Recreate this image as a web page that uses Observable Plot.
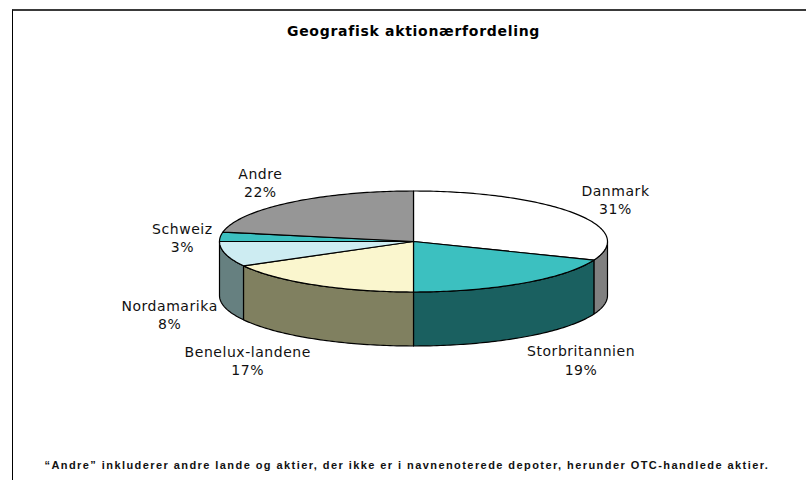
<!DOCTYPE html>
<html lang="da">
<head>
<meta charset="utf-8">
<script src="https://cdn.jsdelivr.net/npm/d3@7"></script>
<script src="https://cdn.jsdelivr.net/npm/@observablehq/plot@0.6"></script>
<style>
html,body{margin:0;padding:0;background:#fff;overflow:hidden}
#chart{position:relative;width:806px;height:480px}
#chart svg{position:absolute;left:0;top:0;background:#fff}
#frame{position:absolute;left:12px;top:9px;right:0;bottom:0;border-top:2px solid #3a3a3a;border-left:1px solid #000;pointer-events:none}
</style>
</head>
<body>
<div id="chart"><div id="frame"></div></div>
<script>
const categories = ["Danmark","Storbritannien","Benelux-landene","Nordamarika","Schweiz","Andre"];
const shares = [31,19,17,8,3,22];
const topColors = ["#ffffff","#3cc0c0","#faf6ce","#cdecf2","#3cc0c0","#969696"];
const sideColors = ["#808080","#1a6060","#808060","#668080","#1a6060","#4b4b4b"];
const labelNudgeX = [41.5,58.5,-67,-56,-38,-29.5];
const labelNudgeY = [-14,76.5,75,60,0.3,-20.5];
const titleText = "Geografisk aktionærfordeling";
const footnoteText = "“Andre” inkluderer andre lande og aktier, der ikke er i navnenoterede depoter, herunder OTC-handlede aktier.";

const depth = 54 / 50.5;          // pie thickness, in units of the vertical radius
const total = d3.sum(shares);
const turn = d3.cumsum(shares).map(c => c / total * 2 * Math.PI);
const startAngle = i => i ? turn[i - 1] : 0;
const step = Math.PI / 180;

function arc(a, b) {
  const n = Math.max(1, Math.ceil((b - a) / step));
  return d3.range(n + 1).map(k => a + (b - a) * k / n);
}

const tops = [], sides = [], labels = [];
categories.forEach((name, i) => {
  const a = startAngle(i), b = turn[i];
  const fill = topColors[i];
  const pts = [[0, 0], ...arc(a, b).map(t => [Math.sin(t), Math.cos(t)]), [0, 0]];
  pts.forEach(([x, y]) => tops.push({name, x, y, fill}));
  const lo = Math.max(a, Math.PI / 2), hi = Math.min(b, 3 * Math.PI / 2);
  if (hi > lo) {
    const front = arc(lo, hi);
    const ring = [
      ...front.map(t => [Math.sin(t), Math.cos(t)]),
      ...front.slice().reverse().map(t => [Math.sin(t), Math.cos(t) - depth])
    ];
    ring.push(ring[0]);
    ring.forEach(([x, y]) => sides.push({name, x, y, fill: sideColors[i]}));
  }
  const mid = (a + b) / 2;
  labels.push({
    x: Math.sin(mid), y: Math.cos(mid),
    text: `${name}\n${shares[i]}%`,
    dx: labelNudgeX[i], dy: labelNudgeY[i]
  });
});

const sans = "'DejaVu Sans', Verdana, sans-serif";
const labelMarks = labels.map(l => Plot.text([l], {
  x: "x", y: "y", text: "text", dx: l.dx, dy: l.dy,
  fontFamily: sans, fontSize: 14, lineHeight: 1.34, fill: "#111"
}));

const plot = Plot.plot({
  width: 806, height: 480,
  marginTop: 0, marginRight: 0, marginBottom: 0, marginLeft: 0,
  x: {domain: [-1, 1], range: [219, 607], axis: null},
  y: {domain: [-1, 1], range: [291.5, 190.5], axis: null},
  marks: [
    Plot.line(sides, {x: "x", y: "y", z: "name", fill: "fill", stroke: "#000", strokeWidth: 1.2, curve: "linear"}),
    Plot.line(tops, {x: "x", y: "y", z: "name", fill: "fill", stroke: "#000", strokeWidth: 1.2, curve: "linear"}),
    ...labelMarks,
    Plot.text([titleText], {
      x: 0, frameAnchor: "top", dy: 26, text: d => d,
      fontFamily: sans, fontSize: 14, fontWeight: "bold", fill: "#000"
    }),
    Plot.text([footnoteText], {
      frameAnchor: "bottom-left", dx: 44, dy: -12, text: d => d, textAnchor: "start",
      fontFamily: "'Liberation Sans', Arial, sans-serif", fontSize: 11, fontWeight: "bold", fill: "#111"
    })
  ]
});
const host = document.getElementById("chart");
host.insertBefore(plot, host.firstChild);

// letter spacing is not a Plot option, so it is set on the rendered text
const spacing = t => t.includes(titleText) ? "0.7px" : t.includes(footnoteText) ? "1.43px" : "0.55px";
plot.querySelectorAll("text").forEach(el => { el.style.letterSpacing = spacing(el.textContent); });
</script>
</body>
</html>
